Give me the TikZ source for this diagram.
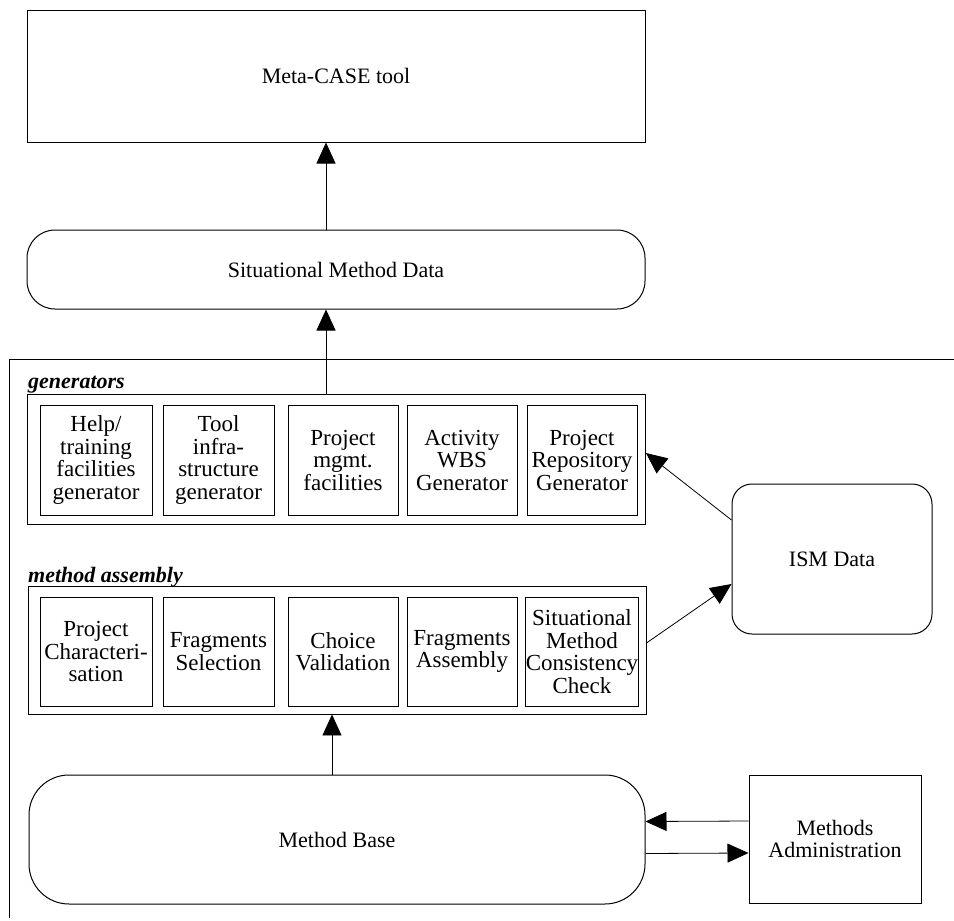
\documentclass[tikz,border=0pt]{standalone}
\usepackage{fontspec}
\setmainfont{Liberation Serif}
\usetikzlibrary{arrows.meta}
\begin{document}
\begin{tikzpicture}[x=1pt,y=-1pt,
  txt/.style={font=\fontsize{22}{22.5}\selectfont, align=center, inner sep=0pt},
  sqbox/.style={txt, draw, line width=1pt, rectangle},
  rbox/.style={txt, draw, line width=1pt, rectangle},
  inbox/.style={txt, font=\fontsize{23}{22.5}\selectfont, draw, line width=0.9pt, minimum width=110pt, minimum height=110pt},
  grp/.style={draw, line width=0.9pt, inner sep=0pt, minimum width=618pt},
  lbl/.style={font=\fontsize{22}{22}\selectfont\bfseries\itshape, anchor=base west, inner sep=0pt},
  arr/.style={line width=0.8pt, -{Triangle[length=21pt,width=19pt]}}
]
\useasboundingbox (0,0) rectangle (954,921);

% top boxes
\node[sqbox, minimum width=618pt, minimum height=132pt] (meta) at (336,76) {Meta-CASE tool};
\node[rbox, rounded corners=28pt, minimum width=618pt, minimum height=79pt] (smd) at (336,269.5) {Situational Method Data};

% outer frame
\draw[line width=1pt] (954,359) -| (9,918);

% generators group
\node[lbl] (glbl) at (28,388) {generators};
\node[grp, minimum height=130pt] (gens) at (336.5,459) {};
\node[inbox, minimum width=112pt] (g1) at (96,460) {Help/\\training\\facilities\\generator};
\node[inbox, minimum width=111pt] (g2) at (218.5,460) {Tool\\infra-\\structure\\generator};
\node[inbox] (g3) at (343,460) {Project\\mgmt.\\facilities};
\node[inbox] (g4) at (462,460) {Activity\\WBS\\Generator};
\node[inbox] (g5) at (582,460) {Project\\Repository\\Generator};

% method assembly group
\node[lbl] (mlbl) at (28,582) {method assembly};
\node[grp, minimum height=128pt] (ma) at (337,650) {};
\node[inbox, minimum width=112pt, minimum height=109pt] (m1) at (96,651.5) {Project\\Characteri-\\sation};
\node[inbox, minimum width=111pt, minimum height=109pt] (m2) at (218.5,651.5) {Fragments\\Selection};
\node[inbox, minimum height=109pt] (m3) at (343,651.5) {Choice\\Validation};
\node[inbox, minimum height=109pt] (m4) at (462,651.5) {Fragments\\Assembly};
\node[inbox, minimum height=109pt] (m5) at (582,651.5) {Situational\\Method\\Consistency\\Check};

% ISM data
\node[rbox, rounded corners=20pt, minimum width=200pt, minimum height=150pt] (ism) at (832,559) {ISM Data};

% method base and administration
\node[rbox, rounded corners=40pt, minimum width=616pt, minimum height=129pt] (mb) at (337,839.5) {Method Base};
\node[sqbox, minimum width=172pt, minimum height=128pt] (madm) at (835,839) {Methods\\Administration};

% connectors
\coordinate (ax) at (326,0);
\coordinate (bx) at (332,0);
\draw[arr] (smd.north -| ax) -- (meta.south -| ax);
\draw[arr] (gens.north -| ax) -- (smd.south -| ax);
\draw[arr] (mb.north -| bx) -- (ma.south -| bx);
\draw[arr] ([yshift=39pt]ism.west) -- ([yshift=6pt]gens.east);
\draw[arr] ([yshift=7pt]ma.east) -- ([yshift=-25pt]ism.west);
\draw[arr] ([yshift=18pt]madm.west) -- ([yshift=18pt]mb.east);
\draw[arr] ([yshift=-14pt]mb.east) -- ([yshift=-14pt]madm.west);
\end{tikzpicture}
\end{document}
